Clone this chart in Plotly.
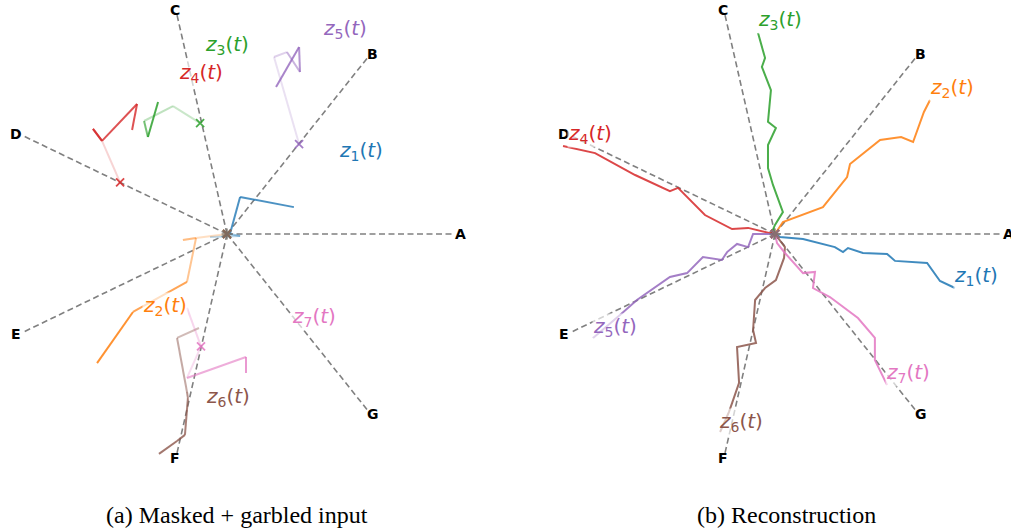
import numpy as np
import plotly.graph_objects as go

# ---------------- data ----------------
SPOKE_LABELS = ["A", "B", "C", "D", "E", "F", "G"]
SERIES = ["z1", "z2", "z3", "z4", "z5", "z6", "z7"]

# (a) masked + garbled input trajectories (spoke radius = 1)
IN_Z1 = [(-0.075, -0.013), (0.058, -0.009), (0.013, 0.0), (0.058, 0.164), (0.296, 0.119)]
IN_Z2 = [(0.0, 0.0), (-0.137, -0.018), (-0.195, -0.027), (-0.137, -0.018),
         (-0.177, -0.212), (-0.416, -0.345), (-0.575, -0.571)]
IN_Z3 = [(-0.119, 0.491), (-0.239, 0.566), (-0.367, 0.500), (-0.350, 0.429), (-0.305, 0.584)]
IN_Z4 = [(-0.473, 0.228), (-0.553, 0.412), (-0.593, 0.465), (-0.553, 0.412),
         (-0.398, 0.575), (-0.420, 0.460)]
IN_Z5 = [(0.319, 0.398), (0.208, 0.783), (0.265, 0.805), (0.323, 0.717),
         (0.319, 0.827), (0.217, 0.650)]
IN_Z6 = [(-0.124, -0.416), (-0.221, -0.460), (-0.177, -0.699), (-0.173, -0.726),
         (-0.186, -0.889), (-0.221, -0.916), (-0.301, -0.973)]
IN_Z7 = [(-0.177, -0.327), (-0.115, -0.497), (-0.177, -0.637), (0.084, -0.544), (0.084, -0.615)]

# last observed points (x markers) in the input
IN_MARK_SERIES = ["z3", "z4", "z5", "z7", "z1", "z2", "z6"]
IN_MARKS = [(-0.119, 0.491), (-0.473, 0.228), (0.319, 0.398), (-0.115, -0.497),
            (0.0, 0.0), (0.0, 0.0), (0.0, 0.0)]

# (b) reconstruction trajectories
REC_Z1 = [(0.0, 0.0), (0.022, -0.013), (0.124, -0.022), (0.265, -0.058), (0.301, -0.080),
          (0.323, -0.062), (0.389, -0.084), (0.496, -0.088), (0.531, -0.119),
          (0.673, -0.128), (0.730, -0.208), (0.796, -0.239)]
REC_Z2 = [(0.0, 0.0), (0.035, 0.053), (0.212, 0.119), (0.319, 0.252), (0.332, 0.310),
          (0.465, 0.416), (0.558, 0.429), (0.611, 0.407), (0.659, 0.540), (0.686, 0.593)]
REC_Z3 = [(0.0, 0.0), (-0.013, 0.009), (0.0, 0.040), (0.035, 0.097), (-0.009, 0.217),
          (-0.031, 0.292), (-0.031, 0.394), (0.004, 0.469), (-0.031, 0.496),
          (-0.018, 0.637), (-0.058, 0.739), (-0.044, 0.779), (-0.075, 0.889)]
REC_Z4 = [(0.0, 0.0), (-0.022, 0.004), (-0.119, 0.027), (-0.190, 0.022), (-0.310, 0.084),
          (-0.429, 0.204), (-0.465, 0.190), (-0.619, 0.261), (-0.796, 0.358), (-0.938, 0.389)]
REC_Z5 = [(0.0, 0.0), (-0.097, 0.0), (-0.119, -0.058), (-0.168, -0.044), (-0.212, -0.080),
          (-0.235, -0.115), (-0.319, -0.102), (-0.389, -0.173), (-0.465, -0.190),
          (-0.611, -0.292), (-0.686, -0.358), (-0.805, -0.460)]
REC_Z6 = [(0.0, 0.0), (0.044, -0.058), (0.040, -0.106), (0.004, -0.204), (-0.044, -0.239),
          (-0.088, -0.292), (-0.097, -0.425), (-0.084, -0.482), (-0.168, -0.500),
          (-0.159, -0.659), (-0.190, -0.748), (-0.204, -0.788), (-0.243, -0.876)]
REC_Z7 = [(0.0, 0.0), (0.009, -0.040), (0.044, -0.084), (0.124, -0.173), (0.177, -0.168),
          (0.168, -0.239), (0.243, -0.279), (0.367, -0.372), (0.442, -0.460),
          (0.442, -0.558), (0.496, -0.668)]

# label anchor positions
IN_LABELS = [(0.593, 0.367), (-0.274, -0.319), (0.0, 0.836), (-0.115, 0.712),
             (0.522, 0.907), (0.004, -0.721), (0.385, -0.367)]
REC_LABELS = [(0.889, -0.186), (0.783, 0.646), (0.022, 0.947), (-0.819, 0.442),
              (-0.708, -0.412), (-0.150, -0.832), (0.588, -0.615)]

CAPTIONS = ["(a) Masked + garbled input", "(b) Reconstruction"]

# ---------------- style ----------------
COLORS = {"z1": "#1f77b4", "z2": "#ff7f0e", "z3": "#2ca02c", "z4": "#d62728",
          "z5": "#9467bd", "z6": "#8c564b", "z7": "#e377c2"}
IN_ALPHAS = {
    "z1": [0.3, 0.45, 0.8, 0.8],
    "z2": [0.25, 0.3, 0.3, 0.45, 0.7, 0.85],
    "z3": [0.25, 0.3, 0.65, 0.85],
    "z4": [0.2, 0.75, 0.75, 0.8, 0.8],
    "z5": [0.2, 0.3, 0.5, 0.7, 0.8],
    "z6": [0.4, 0.5, 0.65, 0.75, 0.8, 0.8],
    "z7": [0.3, 0.25, 0.6, 0.75],
}
IN_DATA = dict(zip(SERIES, [IN_Z1, IN_Z2, IN_Z3, IN_Z4, IN_Z5, IN_Z6, IN_Z7]))
REC_DATA = dict(zip(SERIES, [REC_Z1, REC_Z2, REC_Z3, REC_Z4, REC_Z5, REC_Z6, REC_Z7]))

W, H = 1011, 531
SCALE = 226.0  # px per unit
SPLIT = 505
LEFT_C = (227, 234)
RIGHT_C = (775, 234)
LABEL_R = 1.017


def rgba(hexc, a):
    h = hexc.lstrip("#")
    return "rgba(%d,%d,%d,%.3f)" % (int(h[0:2], 16), int(h[2:4], 16), int(h[4:6], 16), a)


fig = go.Figure()

panels = [("x", "y", IN_DATA, IN_LABELS, True), ("x2", "y2", REC_DATA, REC_LABELS, False)]
annotations = []
n = len(SPOKE_LABELS)
for xa, ya, data, labels, is_input in panels:
    # spokes
    for k, lab in enumerate(SPOKE_LABELS):
        ang = 2 * np.pi * k / n
        fig.add_trace(go.Scatter(x=[0, np.cos(ang)], y=[0, np.sin(ang)], mode="lines",
                                 line=dict(color="#808080", width=1.6, dash="6px,3.5px"),
                                 xaxis=xa, yaxis=ya, showlegend=False, hoverinfo="skip"))
        annotations.append(dict(x=LABEL_R * np.cos(ang), y=LABEL_R * np.sin(ang), xref=xa, yref=ya,
                                xshift=4 * np.cos(ang),
                                text="<b>%s</b>" % lab, showarrow=False,
                                font=dict(family="DejaVu Sans", size=14, color="black"),
                                xanchor="center", yanchor="middle"))
    # trajectories
    for s in SERIES:
        pts = data[s]
        col = COLORS[s]
        if is_input:
            alphas = IN_ALPHAS[s]
            for i in range(len(pts) - 1):
                fig.add_trace(go.Scatter(x=[pts[i][0], pts[i + 1][0]], y=[pts[i][1], pts[i + 1][1]],
                                         mode="lines", line=dict(color=rgba(col, alphas[i]), width=2),
                                         xaxis=xa, yaxis=ya, showlegend=False, hoverinfo="skip"))
        else:
            fig.add_trace(go.Scatter(x=[p[0] for p in pts], y=[p[1] for p in pts], mode="lines",
                                     line=dict(color=rgba(col, 0.85), width=2),
                                     xaxis=xa, yaxis=ya, showlegend=False, hoverinfo="skip"))
    # markers
    if is_input:
        for s, (mx, my) in zip(IN_MARK_SERIES, IN_MARKS):
            c = rgba(COLORS[s], 0.85)
            fig.add_trace(go.Scatter(x=[mx], y=[my], mode="markers",
                                     marker=dict(symbol="x-thin-open", size=8, color=c,
                                                 line=dict(color=c, width=1.8)),
                                     xaxis=xa, yaxis=ya, showlegend=False, hoverinfo="skip"))
    else:
        for s in SERIES:
            c = rgba(COLORS[s], 0.7)
            fig.add_trace(go.Scatter(x=[0], y=[0], mode="markers",
                                     marker=dict(symbol="x-thin-open", size=8, color=c,
                                                 line=dict(color=c, width=1.8)),
                                     xaxis=xa, yaxis=ya, showlegend=False, hoverinfo="skip"))
    gc = "rgba(120,110,100,0.8)"
    fig.add_trace(go.Scatter(x=[0], y=[0], mode="markers",
                             marker=dict(symbol="asterisk-open", size=9, color=gc,
                                         line=dict(color=gc, width=1.6)),
                             xaxis=xa, yaxis=ya, showlegend=False, hoverinfo="skip"))
    # series labels
    for s, (lx, ly) in zip(SERIES, labels):
        txt = "<i>z</i><sub>%s</sub>(<i>t</i>)" % s[1:]
        annotations.append(dict(x=lx, y=ly, xref=xa, yref=ya, text=txt, showarrow=False,
                                font=dict(family="DejaVu Sans", size=20, color=COLORS[s]),
                                bgcolor="rgba(255,255,255,0.65)", borderpad=0,
                                xanchor="center", yanchor="middle"))

# captions
for cap, cx in zip(CAPTIONS, [237, 786]):
    annotations.append(dict(x=cx / W, y=1 - 515 / H, xref="paper", yref="paper", text=cap,
                            showarrow=False, xanchor="center", yanchor="middle",
                            font=dict(family="Liberation Serif", size=24, color="black")))

yr = [(LEFT_C[1] - H) / SCALE, LEFT_C[1] / SCALE]
ax_common = dict(visible=False, showgrid=False, zeroline=False, fixedrange=True)
fig.update_layout(
    width=W, height=H, margin=dict(l=0, r=0, t=0, b=0),
    paper_bgcolor="white", plot_bgcolor="white", showlegend=False,
    xaxis=dict(domain=[0, SPLIT / W], range=[(0 - LEFT_C[0]) / SCALE, (SPLIT - LEFT_C[0]) / SCALE], **ax_common),
    yaxis=dict(domain=[0, 1], range=yr, **ax_common),
    xaxis2=dict(domain=[SPLIT / W, 1], range=[(SPLIT - RIGHT_C[0]) / SCALE, (W - RIGHT_C[0]) / SCALE], **ax_common),
    yaxis2=dict(domain=[0, 1], range=yr, anchor="x2", **ax_common),
    annotations=annotations,
)
fig.write_html("out.html", config={"displayModeBar": False},
               post_script="document.body.style.margin='0';document.body.style.overflow='hidden';")
